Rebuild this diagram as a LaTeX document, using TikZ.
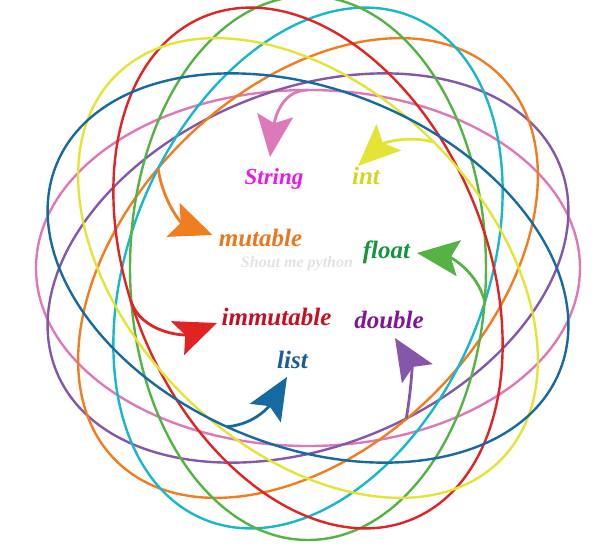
\documentclass[tikz,border=0pt]{standalone}
\usepackage{fontspec}
\setmainfont{Liberation Serif}
\usepackage{tikz}
\usetikzlibrary{arrows.meta}
\definecolor{pinkline}{RGB}{221,121,184}
\definecolor{purpleline}{RGB}{133,87,170}
\definecolor{orangeline}{RGB}{241,125,33}
\definecolor{cyanline}{RGB}{25,183,204}
\definecolor{greenline}{RGB}{85,179,70}
\definecolor{redline}{RGB}{224,36,36}
\definecolor{yellowline}{RGB}{228,228,55}
\definecolor{blueline}{RGB}{22,106,160}
\definecolor{stringtext}{RGB}{232,26,232}
\definecolor{inttext}{RGB}{214,212,38}
\definecolor{mutabletext}{RGB}{232,120,30}
\definecolor{floattext}{RGB}{22,148,62}
\definecolor{immutabletext}{RGB}{200,14,34}
\definecolor{doubletext}{RGB}{128,22,150}
\definecolor{listtext}{RGB}{26,92,150}
\definecolor{marktext}{RGB}{226,226,226}

\begin{document}
\begin{tikzpicture}[
    x=1pt, y=1pt,
    ring/.style={line width=2.4pt},
    pointer/.style={line width=2.8pt, -{Stealth[length=42pt, width=36pt, inset=8pt]}},
    kind/.style={font=\fontsize{25}{30}\selectfont\bfseries\itshape, anchor=base, inner sep=2pt}
]
    \useasboundingbox (-308,-282) rectangle (292,268);

    % Rings
    \foreach \ang/\col in {0/pinkline, 22.5/purpleline, 45/orangeline, 67.5/cyanline,
                           90/greenline, 112.5/redline, 135/yellowline, 157.5/blueline}
        \draw[ring, draw=\col, rotate=\ang] (0,0) ellipse [x radius=272pt, y radius=178pt];

    % Nodes
    \node[kind, text=stringtext, font=\fontsize{23}{28}\selectfont\bfseries\itshape] (string) at (-34,84) {String};
    \node[kind, text=inttext] (int) at (58,84) {int};
    \node[kind, text=mutabletext] (mutable) at (-47.5,22) {mutable};
    \node[kind, text=floattext] (float) at (78.5,10) {float};
    \node[kind, text=immutabletext] (immutable) at (-31.5,-57) {immutable};
    \node[kind, text=doubletext] (double) at (81,-60) {double};
    \node[kind, text=listtext] (list) at (-15.5,-100) {list};
    \node[kind, text=marktext, font=\fontsize{16}{19}\selectfont\bfseries\itshape] (mark) at (-11,1) {Shout me python};

    % Start points on the rings
    \coordinate (pk) at (90:272pt and 178pt);
    \coordinate (pu) at ([rotate=22.5]277:272pt and 178pt);
    \coordinate (or) at ([rotate=45]97.5:272pt and 178pt);
    \coordinate (gr) at ([rotate=90]263:272pt and 178pt);
    \coordinate (rd) at ([rotate=112.5]82:272pt and 178pt);
    \coordinate (ye) at ([rotate=135]270:272pt and 178pt);
    \coordinate (bl) at ([rotate=157.5]87:272pt and 178pt);

    % Edges
    \draw[pointer, pinkline] (pk) to[out=180, in=83] ([shift={(-4,27)}]string.base);
    \draw[pointer, yellowline] (ye) to[out=165, in=43] ([shift={(-8,18)}]int.base);
    \draw[pointer, orangeline] (or) to[out=-82, in=159] ([shift={(-48,11)}]mutable.base);
    \draw[pointer, greenline] (gr) to[out=105, in=-7] ([shift={(30.5,5)}]float.base);
    \draw[pointer, redline] (rd) to[out=-72, in=201] ([shift={(-59.5,2)}]immutable.base);
    \draw[pointer, purpleline] (pu) to[out=80, in=-58] ([shift={(6,-10)}]double.base);
    \draw[pointer, blueline] (bl) to[out=5, in=-121] ([shift={(-5.5,-9)}]list.base);
\end{tikzpicture}
\end{document}
